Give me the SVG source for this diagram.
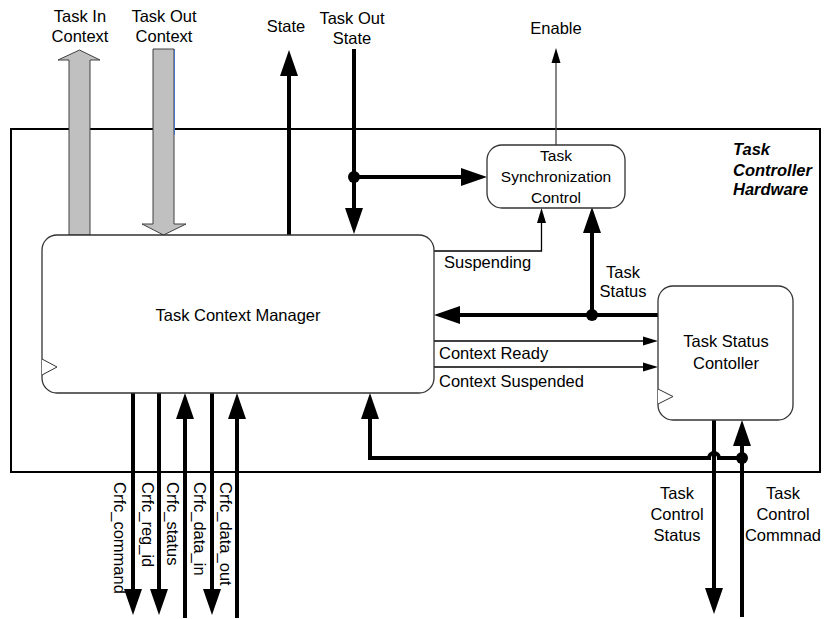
<svg xmlns="http://www.w3.org/2000/svg" width="826" height="619" viewBox="0 0 826 619">
<style>
text{font-family:"Liberation Sans",Arial,sans-serif;font-size:16.5px;fill:#000}
.sm{font-size:15.5px}
.bi{font-weight:bold;font-style:italic}
.mid{text-anchor:middle}
.box{fill:#fff;stroke:#333;stroke-width:1.3}
.thick{fill:none;stroke:#000;stroke-width:4}
.thin{fill:none;stroke:#000;stroke-width:1.3}
.gray{fill:#c0c0c0;stroke:#404040;stroke-width:1}
.clk{fill:#fff;stroke:#333;stroke-width:1}
</style>
<defs>
<marker id="big" markerUnits="userSpaceOnUse" markerWidth="26" markerHeight="20" refX="0" refY="9" orient="auto" overflow="visible">
<path d="M0,0 L26,9 L0,18 z" fill="#000"/>
</marker>
<marker id="small" markerUnits="userSpaceOnUse" markerWidth="15" markerHeight="10" refX="0" refY="4.5" orient="auto" overflow="visible">
<path d="M0,0 L15,4.5 L0,9 z" fill="#000"/>
</marker>
</defs>
<rect id="outer" x="11" y="129" width="809" height="343" fill="none" stroke="#000" stroke-width="2"/>
<g id="connectors">
<polygon class="gray" points="69,235 69,60 58,60 79.5,50 100,60 90,60 90,235"/>
<polygon class="gray" points="153,49 174,49 174,224 186,224 163.5,235 142,224 153,224"/>
<line x1="174.5" y1="49" x2="174.5" y2="135" stroke="#4472c4" stroke-width="1"/>
<line class="thick" x1="289" y1="235" x2="289" y2="76" marker-end="url(#big)"/>
<line class="thick" x1="354" y1="49" x2="354" y2="208" marker-end="url(#big)"/>
<line class="thick" x1="354" y1="177" x2="461" y2="177" marker-end="url(#big)"/>
<circle cx="354" cy="177" r="6"/>
<line x1="556" y1="145" x2="556" y2="63" stroke="#444" stroke-width="1.3" marker-end="url(#small)"/>
<polyline class="thin" points="434,251 541.5,251 541.5,223" stroke="#444" marker-end="url(#small)"/>
<line class="thick" x1="592" y1="315" x2="592" y2="233" marker-end="url(#big)"/>
<line class="thick" x1="658" y1="315" x2="460" y2="315" marker-end="url(#big)"/>
<circle cx="592" cy="315" r="6"/>
<line class="thin" x1="434" y1="341" x2="643" y2="341" stroke="#555" marker-end="url(#small)"/>
<line class="thin" x1="434" y1="367" x2="643" y2="367" marker-end="url(#small)"/>
<line class="thick" x1="133" y1="393" x2="133" y2="589" marker-end="url(#big)"/>
<line class="thick" x1="159" y1="393" x2="159" y2="589" marker-end="url(#big)"/>
<line class="thick" x1="185" y1="618" x2="185" y2="419" marker-end="url(#big)"/>
<line class="thick" x1="212" y1="393" x2="212" y2="589" marker-end="url(#big)"/>
<line class="thick" x1="237" y1="618" x2="237" y2="419" marker-end="url(#big)"/>
<line class="thick" x1="714" y1="420" x2="714" y2="588" marker-end="url(#big)"/>
<line class="thick" x1="742" y1="617" x2="742" y2="446" marker-end="url(#big)"/>
<path class="thick" d="M742,458 H719 A5,5 0 0 0 709,458 H370 V419" marker-end="url(#big)"/>
<circle cx="742" cy="458" r="6"/>
</g>
<g id="task-context-manager">
<rect class="box" x="42" y="235" width="392" height="158" rx="15"/>
<polyline class="clk" points="42,359 57,367 42,375"/>
<text class="mid" x="238" y="321">Task Context Manager</text>
</g>
<g id="task-sync-control">
<rect class="box" x="487" y="145" width="138" height="63" rx="15"/>
<text class="mid sm" x="556" y="160.5">Task</text>
<text class="mid sm" x="556" y="181.5">Synchronization</text>
<text class="mid sm" x="556" y="202.5">Control</text>
</g>
<g id="task-status-controller">
<rect class="box" x="658" y="286" width="135" height="134" rx="15"/>
<polyline class="clk" points="658,389 673,396.5 658,404"/>
<text class="mid" x="726" y="347">Task Status</text>
<text class="mid" x="726" y="369">Contoller</text>
</g>
<g id="labels">
<text class="bi" x="733" y="155">Task</text>
<text class="bi" x="733" y="176">Controller</text>
<text class="bi" x="733" y="195">Hardware</text>
<text class="mid" x="80" y="22">Task In</text>
<text class="mid" x="80" y="42">Context</text>
<text class="mid" x="164" y="22">Task Out</text>
<text class="mid" x="164" y="42">Context</text>
<text class="mid" x="286" y="32">State</text>
<text class="mid" x="352" y="24">Task Out</text>
<text class="mid" x="352" y="44">State</text>
<text class="mid" x="556" y="34">Enable</text>
<text x="444" y="268">Suspending</text>
<text class="mid" x="623" y="278">Task</text>
<text class="mid" x="623" y="297">Status</text>
<text x="439" y="359">Context Ready</text>
<text x="439" y="387">Context Suspended</text>
<text class="mid" x="677" y="499">Task</text>
<text class="mid" x="677" y="520">Control</text>
<text class="mid" x="677" y="541">Status</text>
<text class="mid" x="783" y="499">Task</text>
<text class="mid" x="783" y="520">Control</text>
<text class="mid" x="783" y="541">Commnad</text>
<text transform="translate(114,482) rotate(90)">Crfc_command</text>
<text transform="translate(142,482) rotate(90)">Crfc_reg_id</text>
<text transform="translate(167,482) rotate(90)">Crfc_status</text>
<text transform="translate(194,482) rotate(90)">Crfc_data_in</text>
<text transform="translate(220,482) rotate(90)">Crfc_data_out</text>
</g>
</svg>
